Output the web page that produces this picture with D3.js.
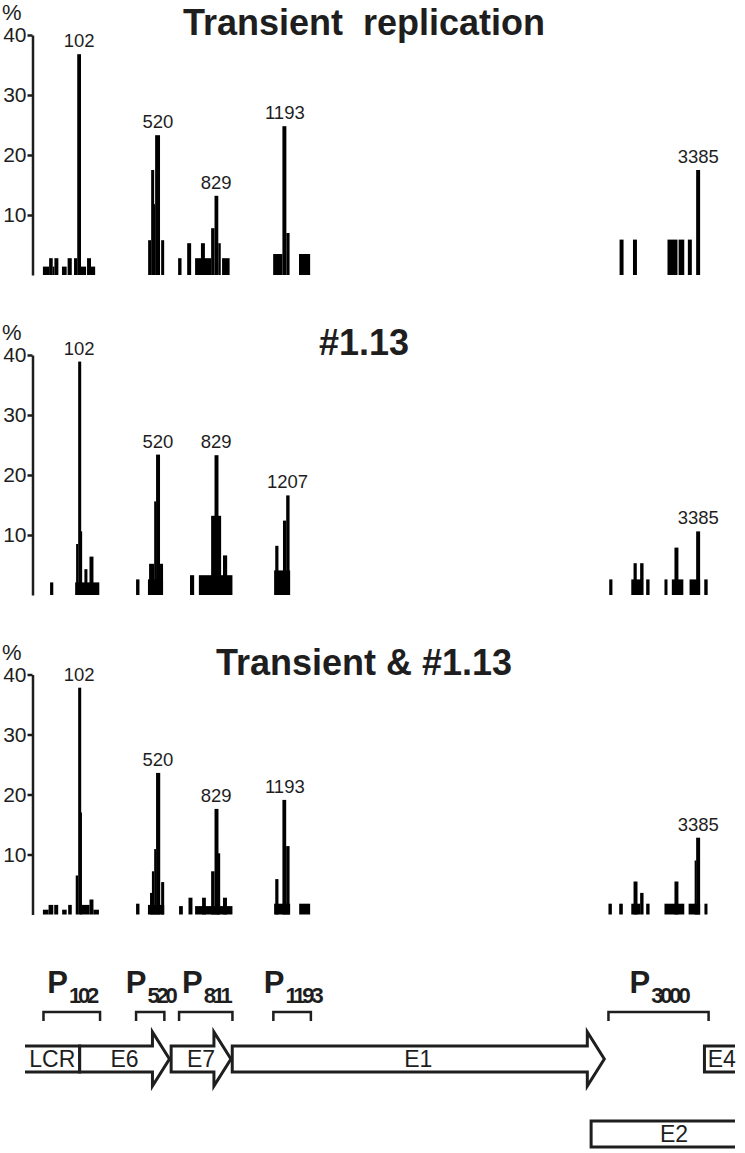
<!DOCTYPE html>
<html>
<head>
<meta charset="utf-8">
<script src="https://cdn.jsdelivr.net/npm/d3@7/dist/d3.min.js"></script>
<style>
  body { margin: 0; background: #fff; }
  svg text { font-family: "Liberation Sans", Arial, sans-serif; fill: #1e1e1e; }
</style>
</head>
<body>
<svg id="chart" width="745" height="1153"></svg>
<script>
// genome window shown (nt, LCR start wraps round to negative numbers)
const genomeWindow = [-185, 3580];

const panelTitles = ["Transient  replication", "#1.13", "Transient & #1.13"];
const yTicks = [10, 20, 30, 40];

// bars: [start nt, end nt, % of start sites]
const transientBars = [
  [-90, -57, 1.4], [-57, -38, 2.8], [-38, -29, 1.4], [-29, -8, 2.8],
  [11, 36, 1.4], [41, 63, 2.8],
  [75, 92, 2.8], [92, 112, 36.8], [112, 139, 1.4], [144, 165, 2.8], [165, 187, 1.4],
  [468, 484, 5.8], [484, 500, 17.5], [495, 505, 11.8], [505, 531, 23.3], [537, 553, 5.8],
  [627, 645, 2.8], [675, 696, 5.3], [717, 760, 2.8], [748, 769, 5.3], [760, 802, 2.8],
  [802, 820, 7.8], [820, 840, 13.2], [840, 853, 5.3], [860, 900, 2.8],
  [1131, 1180, 3.5], [1180, 1201, 24.8], [1201, 1218, 7.0], [1268, 1327, 3.5],
  [2968, 2989, 5.9], [3039, 3060, 5.9], [3222, 3275, 5.9], [3281, 3311, 5.9],
  [3330, 3351, 5.9], [3374, 3395, 17.5]
];
const clone113Bars = [
  [-52, -35, 2.1],
  [81, 209, 2.1], [86, 97, 8.5], [97, 113, 38.9], [108, 118, 10.6],
  [130, 146, 4.3], [157, 178, 6.4],
  [404, 422, 2.6], [467, 547, 2.6], [473, 500, 5.2], [500, 511, 15.6],
  [510, 531, 23.4], [531, 547, 5.2],
  [690, 712, 3.3], [737, 915, 3.3], [802, 855, 13.2], [820, 841, 23.3], [865, 887, 6.6],
  [1136, 1221, 4.1], [1142, 1159, 8.2], [1183, 1200, 12.4], [1200, 1218, 16.6],
  [2913, 2930, 2.6], [3030, 3090, 2.6], [3042, 3059, 5.3], [3077, 3095, 5.3],
  [3109, 3127, 2.6], [3206, 3222, 2.6], [3245, 3306, 2.6], [3259, 3280, 7.9],
  [3339, 3395, 2.6], [3374, 3395, 10.6], [3417, 3435, 2.6]
];
const combinedBars = [
  [-90, -60, 0.8], [-60, -35, 1.6], [-30, -9, 1.6], [12, 36, 0.8], [44, 63, 1.6],
  [84, 97, 6.5], [97, 113, 37.8], [108, 117, 17.0], [113, 157, 1.6],
  [157, 178, 2.5], [178, 207, 0.8],
  [404, 422, 1.8], [467, 553, 1.6], [478, 490, 3.6], [488, 500, 7.2],
  [500, 510, 10.9], [510, 532, 23.6], [537, 553, 5.4],
  [632, 652, 1.4], [682, 703, 2.8], [717, 915, 1.4], [754, 774, 2.8],
  [802, 820, 7.2], [820, 841, 17.6], [833, 850, 10.2], [865, 886, 2.8],
  [1136, 1221, 1.8], [1142, 1159, 5.9], [1180, 1200, 19.1], [1200, 1218, 11.4],
  [1269, 1327, 1.8],
  [2909, 2927, 1.8], [2966, 2985, 1.8], [3030, 3077, 1.8], [3042, 3063, 5.5],
  [3077, 3095, 3.6], [3109, 3127, 1.8], [3206, 3311, 1.8], [3259, 3280, 5.5],
  [3334, 3395, 1.8], [3366, 3376, 9.0], [3374, 3395, 12.8], [3418, 3434, 1.8]
];

const transientPeaks = [102, 520, 829, 1193, 3385];
const clone113Peaks = [102, 520, 829, 1207, 3385];
const combinedPeaks = [102, 520, 829, 1193, 3385];

// promoter regions [name, start nt, end nt]
const promoters = [
  ["102", -87, 213], ["520", 404, 554], ["811", 632, 915],
  ["1193", 1132, 1331], ["3000", 2909, 3440]
];

// HPV18 early region [name, start nt, end nt, kind, row]
const genes = [
  ["LCR", -185, 105, "openLeft", 0],
  ["E6", 105, 581, "arrow", 0],
  ["E7", 590, 907, "arrow", 0],
  ["E1", 914, 2887, "arrow", 0],
  ["E4", 3418, 3684, "openRight", 0],
  ["E2", 2817, 3914, "openRight", 1]
];

const svg = d3.select("#chart");
const x = d3.scaleLinear().domain(genomeWindow).range([25, 735]);

const panels = [
  {title: panelTitles[0], bars: transientBars, peaks: transientPeaks, top: 35},
  {title: panelTitles[1], bars: clone113Bars, peaks: clone113Peaks, top: 355},
  {title: panelTitles[2], bars: combinedBars, peaks: combinedPeaks, top: 674.5}
];

function drawPanel(p) {
  const y = d3.scaleLinear().domain([0, 40]).range([p.top + 240, p.top]);
  const g = svg.append("g").attr("class", "panel");

  g.append("g")
    .selectAll("rect")
    .data(p.bars)
    .join("rect")
      .attr("x", d => x(d[0]))
      .attr("width", d => x(d[1]) - x(d[0]))
      .attr("y", d => y(d[2]))
      .attr("height", d => y(0) - y(d[2]))
      .attr("fill", "#000");

  const axis = g.append("g")
    .attr("transform", "translate(32.5,0)")
    .call(d3.axisLeft(y).tickValues(yTicks).tickSize(5).tickSizeOuter(0).tickPadding(1));
  axis.select(".domain").attr("stroke", "#1e1e1e").attr("stroke-width", 2.5);
  axis.selectAll(".tick line").attr("stroke", "#1e1e1e").attr("stroke-width", 2.5);
  axis.selectAll(".tick text")
    .attr("font-size", 21)
    .attr("font-family", "Liberation Sans, Arial, sans-serif")
    .attr("fill", "#1e1e1e");

  g.append("text")
    .attr("x", 2).attr("y", p.top - 15)
    .attr("font-size", 22)
    .text("%");

  g.append("text")
    .attr("x", 364).attr("y", p.top)
    .attr("text-anchor", "middle")
    .attr("font-size", 36)
    .attr("font-weight", "bold")
    .attr("fill", "#222")
    .style("white-space", "pre")
    .text(p.title);

  // peak labels sit over the tallest bar covering that position
  g.selectAll("text.peak")
    .data(p.peaks)
    .join("text")
      .attr("class", "peak")
      .attr("x", d => x(d))
      .attr("y", d => {
        const h = d3.max(p.bars.filter(b => b[0] <= d && b[1] >= d), b => b[2]);
        return y(h) - 7;
      })
      .attr("text-anchor", "middle")
      .attr("font-size", 18.5)
      .text(d => d);
}

panels.forEach(drawPanel);

// promoter brackets
const pg = svg.append("g").attr("class", "promoters");
const bracketY = 1012;
pg.selectAll("path")
  .data(promoters)
  .join("path")
    .attr("d", d => `M${x(d[1])},${bracketY + 9}V${bracketY}H${x(d[2])}V${bracketY + 9}`)
    .attr("fill", "none")
    .attr("stroke", "#1e1e1e")
    .attr("stroke-width", 2.5);

const plabel = pg.selectAll("text")
  .data(promoters)
  .join("text")
    .attr("x", d => (x(d[1]) + x(d[2])) / 2)
    .attr("y", 993)
    .attr("text-anchor", "middle")
    .attr("font-weight", "bold")
    .attr("fill", "#222");
plabel.append("tspan").attr("font-size", 31).attr("letter-spacing", 1).text("P");
plabel.append("tspan")
  .attr("font-size", 22)
  .attr("dy", 10)
  .attr("letter-spacing", -3.2)
  .text(d => d[0]);

// genes
const gg = svg.append("g").attr("class", "genes");
const rowCenter = [1059, 1134];
const bodyHalf = 13, headHalf = 27, headLen = 17;
const xMax = x.range()[1];

function genePath(d) {
  const x0 = x(d[1]), x1 = Math.min(x(d[2]), xMax);
  const cy = rowCenter[d[4]], t = cy - bodyHalf, b = cy + bodyHalf;
  if (d[3] === "arrow") {
    const hb = x1 - headLen;
    return `M${x0},${t}H${hb}V${cy - headHalf}L${x1},${cy}L${hb},${cy + headHalf}V${b}H${x0}Z`;
  }
  if (d[3] === "openLeft") return `M${x0},${t}H${x1}V${b}H${x0}`;
  return `M${x1},${t}H${x0}V${b}H${x1}`;
}

gg.selectAll("path")
  .data(genes)
  .join("path")
    .attr("d", genePath)
    .attr("fill", "#fff")
    .attr("stroke", "#1e1e1e")
    .attr("stroke-width", 3)
    .attr("stroke-linejoin", "miter");

gg.selectAll("text")
  .data(genes)
  .join("text")
    .attr("x", d => d[0] === "E2" ? 674 : (x(d[1]) + Math.min(x(d[2]), xMax)) / 2 + (d[0] === "E4" ? 2 : 0))
    .attr("y", d => rowCenter[d[4]] + 8)
    .attr("text-anchor", "middle")
    .attr("font-size", 23)
    .text(d => d[0]);
</script>
</body>
</html>
